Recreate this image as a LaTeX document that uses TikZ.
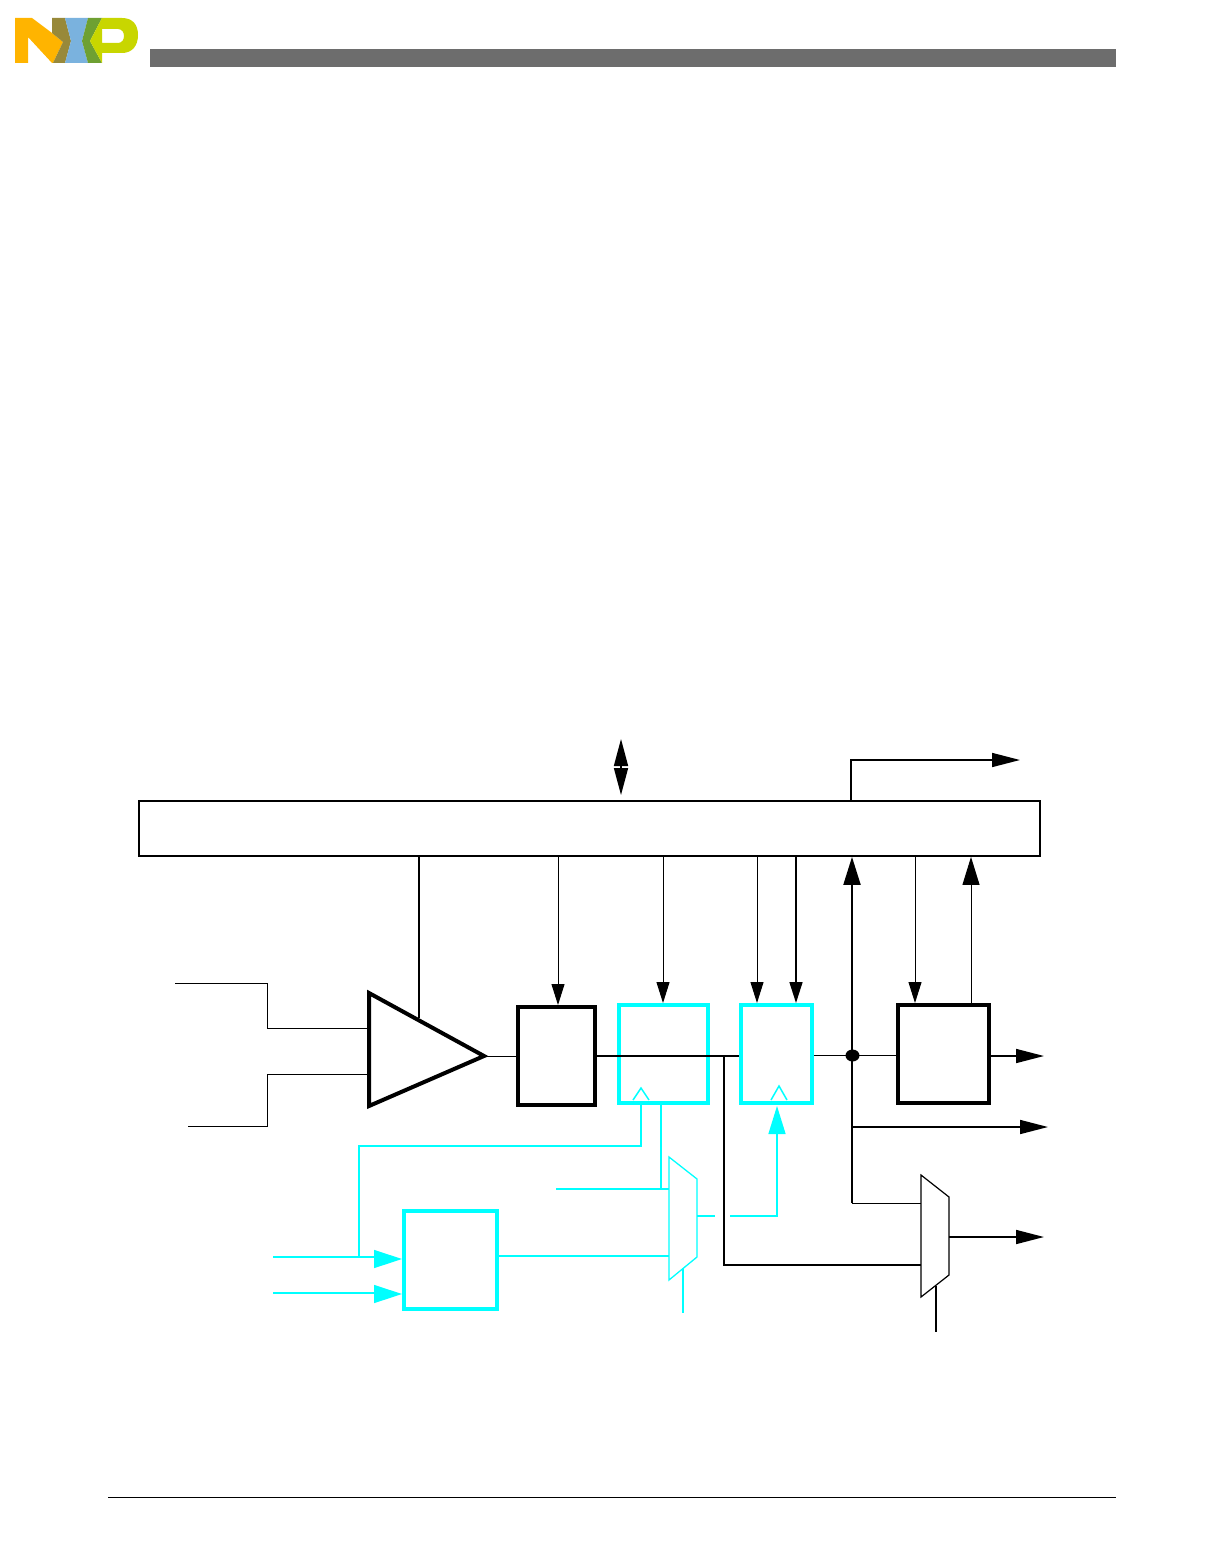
\documentclass[tikz,border=0pt]{standalone}
\usetikzlibrary{arrows.meta}
\definecolor{cy}{RGB}{0,255,255}
\definecolor{barc}{RGB}{109,109,109}
\definecolor{nyel}{RGB}{255,180,0}
\definecolor{nolv}{RGB}{152,137,58}
\definecolor{nblu}{RGB}{122,178,222}
\definecolor{ngrn}{RGB}{110,160,50}
\definecolor{nlim}{RGB}{200,214,0}
\tikzset{
 x=1pt,y=-1pt,
 blk/.style={draw=black,fill=white,line width=4pt,minimum width=#1,inner sep=0pt},
 hlb/.style={draw=cy,fill=white,line width=4pt,minimum width=#1,inner sep=0pt},
 thin1/.style={line width=1pt,black},
 thin2/.style={line width=1.6pt,black},
 cyl/.style={line width=1.8pt,cy},
 tipS/.style={-{Triangle[length=21pt,width=13pt]}},
 tipL/.style={-{Triangle[length=28pt,width=17pt]}},
 tipM/.style={-{Triangle[length=28pt,width=14pt]}},
 tipC/.style={-{Triangle[length=28pt,width=18pt]}},
}
\begin{document}
\begin{tikzpicture}
\useasboundingbox (0,0) rectangle (1224,1555);
% page furniture
\fill[barc] (150,49) rectangle (1116,67);
\draw[line width=0.8pt,black] (108,1497) -- (1116,1497);
% logo
\fill[nyel] (15,18) -- (32,18) -- (52,33) -- (63,42) -- (53,63) -- (52,63) -- (28,37) -- (28,63) -- (15,63) -- cycle;
\fill[nolv] (52,18) -- (65,18) -- (71,41) -- (65,63) -- (53,63) -- (63,42) -- (52,33) -- cycle;
\fill[nblu] (65,18) -- (88,18) -- (82,41) -- (88,63) -- (65,63) -- (71,41) -- cycle;
\fill[ngrn] (88,18) -- (102,18) -- (90,41) -- (102,63) -- (88,63) -- (82,41) -- cycle;
\fill[nlim,even odd rule] (102,18) -- (122,18) .. controls (133,18) and (138,25) .. (138,35) .. controls (138,46) and (132,53) .. (122,53) -- (102,53) -- (102,63) -- (90,41) -- cycle (102,29) -- (102,43) -- (118,43) .. controls (126,43) and (126,29) .. (118,29) -- cycle;

% blocks
\node[draw=black,fill=white,line width=1.8pt,minimum width=901pt,minimum height=55pt,inner sep=0pt] (reg) at (589.5,828.5) {};
\node[blk=77pt,minimum height=98pt] (gain) at (556.5,1056) {};
\node[hlb=89pt,minimum height=98pt] (ffa) at (663.5,1054) {};
\node[hlb=71pt,minimum height=98pt] (ffb) at (776.5,1054) {};
\node[blk=91pt,minimum height=98pt] (outb) at (943.5,1054) {};
\node[hlb=93pt,minimum height=98pt] (clk) at (450.5,1260) {};

% free ends and junctions
\coordinate (busT) at (621,739);
\coordinate (busB) at (621,795);
\coordinate (tr1) at (1020,760);
\coordinate (in1) at (175,983);
\coordinate (in2) at (188,1126);
\coordinate (ampA) at (369,993);
\coordinate (ampB) at (369,1106);
\coordinate (ampC) at (484,1056);
\coordinate (ampP) at (419,1018);
\coordinate (dot) at (852.5,1055.5);
\coordinate (o1) at (1044,1056);
\coordinate (o2) at (1048,1127);
\coordinate (o3) at (1044,1237);
\coordinate (j1) at (724,1056);
\coordinate (mA) at (921,1175);
\coordinate (mB) at (949,1197);
\coordinate (mC) at (949,1275);
\coordinate (mD) at (921,1297);
\coordinate (mSel) at (936,1332);
\coordinate (cA) at (669,1157);
\coordinate (cB) at (697,1179);
\coordinate (cC) at (697,1257);
\coordinate (cD) at (669,1280);
\coordinate (cSel) at (683,1313);
\coordinate (cin) at (556,1189);
\coordinate (ci1) at (273,1257);
\coordinate (ci2) at (273,1293);
\coordinate (ck1) at (641,1088);
\coordinate (ck2) at (779,1086);

% upper connectors
\draw[thin2,{Triangle[length=27pt,width=14pt]}-{Triangle[length=27pt,width=14pt]}] (busT) -- (busB);
\draw[thin2,tipM] (reg.north -| 851,0) |- (tr1);
\draw[thin1,tipS] (reg.south -| 558,0) -- (gain.north -| 558,0);
\draw[thin1,tipS] (reg.south -| 663,0) -- (ffa.north -| 663,0);
\draw[thin1,tipS] (reg.south -| 757,0) -- (ffb.north -| 757,0);
\draw[thin2,tipS] (reg.south -| 796,0) -- (ffb.north -| 796,0);
\draw[thin1,tipS] (reg.south -| 915,0) -- (outb.north -| 915,0);
\draw[thin1,tipL] (outb.north -| 971,0) -- (reg.south -| 971,0);
\draw[thin2] (reg.south -| ampP) -- (ampP);

% amplifier
\draw[thin1] (in1) -- (267,983) -- (267,1028) -- (369,1028);
\draw[thin1] (in2) -- (267,1126) -- (267,1074) -- (369,1074);
\draw[line width=4pt,black,fill=white,miter limit=20] (ampA) -- (ampC) -- (ampB) -- cycle;
\draw[thin1] (ampC) -- (gain.west);

% main signal path
\draw[thin2] (gain.east) -- (ffb.west |- gain.east);
\draw[thin1] (ffb.east |- dot) -- (outb.west |- dot);
\fill[black] (dot) circle[x radius=7pt,y radius=6pt];
\draw[line width=2pt,black,tipL] (852,1203) -- (reg.south -| 852,0);
\draw[thin2,tipM] (852,1127) -- (o2);
\draw[thin2,tipM] (outb.east |- o1) -- (o1);

% black mux
\draw[thin1] (852,1203) -- (mA |- 852,1203);
\draw[thin2] (j1) -- (724,1265) -- (mA |- 724,1265);
\draw[line width=1.2pt,black,fill=white] (mA) -- (mB) -- (mC) -- (mD) -- cycle;
\draw[thin2] (936,1286) -- (mSel);
\draw[thin2,tipM] (949,1237) -- (o3);

% cyan section
\draw[line width=1.5pt,cy] (ck1) ++(-8,12) -- (ck1) -- ++(8,12);
\draw[line width=1.5pt,cy] (ck2) ++(-8,14) -- (ck2) -- ++(8,14);
\draw[cyl] (ffa.south -| ck1) -- (641,1146) -- (359,1146) -- (359,1257);
\draw[line width=1.4pt,cy] (ci1) -- (380,1257);
\draw[line width=1.4pt,cy,tipC] (376,1259) -- (clk.west |- 0,1259);
\draw[line width=1.4pt,cy] (ci2) -- (380,1293);
\draw[line width=1.4pt,cy,tipC] (374,1294) -- (clk.west |- 0,1294);
\draw[line width=1.4pt,cy] (ffa.south -| 661,0) -- (661,1189);
\draw[cyl] (cin) -- (cA |- cin);
\draw[cyl] (clk.east |- 0,1256) -- (cA |- 0,1256);
\draw[line width=1.3pt,cy,fill=white] (cA) -- (cB) -- (cC) -- (cD) -- cycle;
\draw[cyl] (683,1268) -- (cSel);
\draw[cyl] (697,1216) -- (715,1216);
\draw[line width=1.4pt,cy,tipL] (730,1216) -- (777,1216) -- (777,1106);
\end{tikzpicture}
\end{document}
